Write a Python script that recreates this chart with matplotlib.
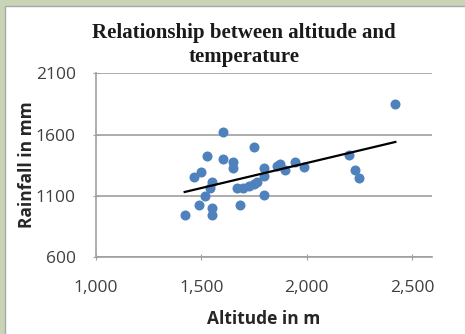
import numpy as np
import matplotlib
matplotlib.use("Agg")
import matplotlib.pyplot as plt
from matplotlib.patches import Rectangle

# Altitude (m) and rainfall (mm)
altitude = [2421, 1601, 1748, 1527, 1601, 1650, 1650, 1500, 1464, 1552,
            1540, 1519, 1489, 1552, 1552, 1421, 1682, 1799, 1669, 1698,
            1725, 1748, 1764, 1799, 1799, 1859, 1875, 1898, 1946, 1989,
            2199, 2231, 2250]
rainfall = [1850, 1619, 1497, 1421, 1399, 1375, 1326, 1290, 1250, 1212,
            1163, 1100, 1024, 1000, 945, 940, 1021, 1108, 1163, 1163,
            1176, 1198, 1209, 1263, 1326, 1345, 1361, 1307, 1375, 1334,
            1429, 1307, 1244]

x_ticks = [1000, 1500, 2000, 2500]
y_ticks = [600, 1100, 1600, 2100]

fig = plt.figure(figsize=(4.65, 3.34), dpi=100)
fig.patch.set_facecolor("#c9d4b6")
fig.patches.append(Rectangle((5 / 465, -0.01), 1.0, 1 - 6 / 334 + 0.01,
                             transform=fig.transFigure, facecolor="white",
                             edgecolor="#a8a8a8", linewidth=1.0, zorder=-5))

ax = fig.add_axes([96 / 465, 1 - 257 / 334, (432 - 96) / 465, (257 - 73.3) / 334])
ax.set_facecolor("none")

ax.scatter(altitude, rainfall, s=52, color="#4f81bd", zorder=3, linewidths=0)

# linear trendline
a, b = np.polyfit(altitude, rainfall, 1)
xs = np.array([min(altitude), max(altitude)])
ax.plot(xs, a * xs + b, color="black", linewidth=1.6, zorder=4)

ax.set_xlim(1000, 2595)
ax.set_ylim(600, 2100)
ax.set_xticks(x_ticks)
ax.set_xticklabels([f"{v:,}" for v in x_ticks])
ax.set_yticks(y_ticks)

ax.grid(axis="y", color="#a0a0a0", linewidth=1.2)
ax.set_axisbelow(True)
for side in ["top", "right"]:
    ax.spines[side].set_visible(False)
for side in ["left", "bottom"]:
    ax.spines[side].set_color("#a0a0a0")
    ax.spines[side].set_linewidth(1.2)
ax.tick_params(direction="inout", length=5, color="#a0a0a0",
               labelsize=12.5, labelcolor="#404040")
ax.tick_params(axis="x", pad=14)
ax.tick_params(axis="y", pad=12)

font = ["Open Sans", "DejaVu Sans"]
for lab in ax.get_xticklabels() + ax.get_yticklabels():
    lab.set_family(font)

ax.set_xlabel("Altitude in m", fontsize=12.5, fontweight="bold",
              family=font, color="#262626", labelpad=10)
ax.set_ylabel("Rainfall in mm", fontsize=12.5, fontweight="bold",
              family=font, color="#262626", labelpad=0)

fig.text(244 / 465, 1 - 45 / 334,
         "Relationship between altitude and\ntemperature",
         ha="center", va="center", fontsize=15, fontweight="bold",
         family="Liberation Serif", color="#1a1a1a", linespacing=1.3)

fig.savefig("out.png", dpi=100, facecolor=fig.get_facecolor())
